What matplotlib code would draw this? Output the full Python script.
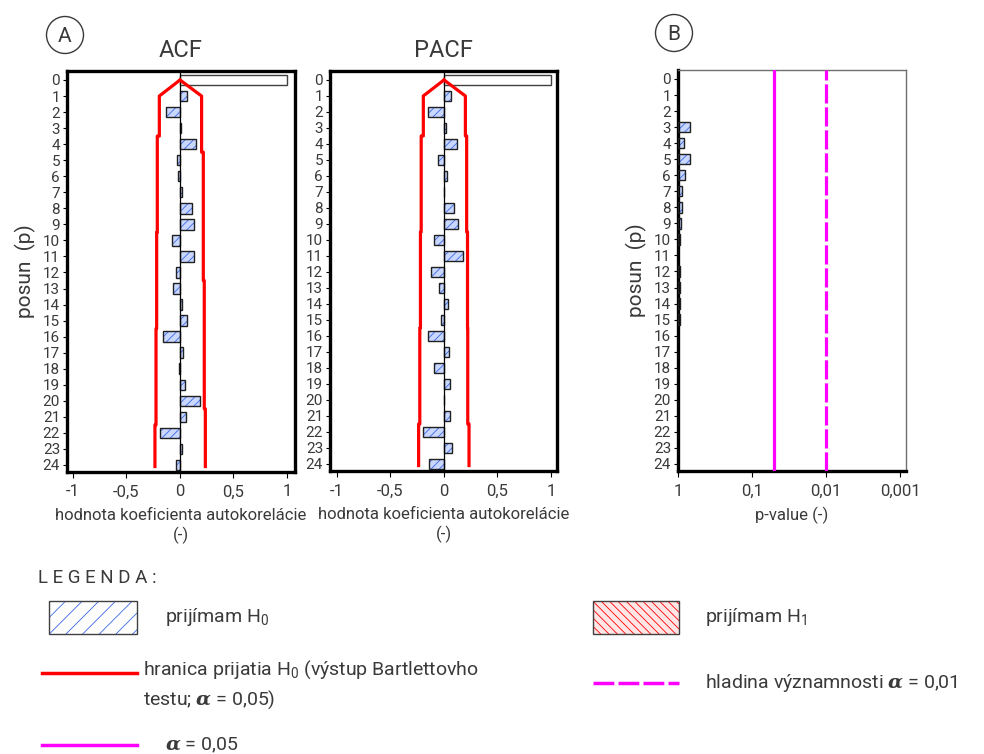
import numpy as np
import matplotlib
matplotlib.use("Agg")
import matplotlib.pyplot as plt
from matplotlib.patches import Rectangle, Circle

plt.rcParams['font.family'] = ['Roboto', 'DejaVu Sans']
plt.rcParams['mathtext.fontset'] = 'dejavuserif'
plt.rcParams['hatch.linewidth'] = 0.6

# data
lags = list(range(25))
acf = [1.0, 0.07, -0.13, 0.005, 0.15, -0.03, -0.015, 0.02, 0.115, 0.135, -0.07, 0.135,
       -0.035, -0.065, 0.02, 0.07, -0.155, 0.03, -0.005, 0.045, 0.19, 0.055, -0.19, 0.02, -0.035]
pacf = [1.0, 0.062, -0.153, 0.019, 0.121, -0.059, 0.028, 0.0, 0.097, 0.128, -0.09, 0.18,
        -0.125, -0.05, 0.034, -0.031, -0.153, 0.044, -0.09, 0.053, 0.0, 0.053, -0.193, 0.072, -0.143]

# Bartlett bounds for lags 1..24
acf_lower = [-0.193] * 3 + [-0.212] * 6 + [-0.218] * 6 + [-0.224] * 6 + [-0.234] * 3
acf_upper = [0.202] * 4 + [0.218] * 8 + [0.227] * 8 + [0.237] * 4
pacf_lower = [-0.193] * 3 + [-0.213] * 6 + [-0.220] * 6 + [-0.226] * 6 + [-0.237] * 3
pacf_upper = [0.200] * 3 + [0.212] * 6 + [0.220] * 6 + [0.222] * 6 + [0.234] * 3

nan = np.nan
p_values = [nan, nan, nan, 0.68, 0.83, 0.68, 0.80, 0.89, 0.89, 0.91, 0.94, nan,
            0.94, 0.95, 0.95, 0.95, nan, nan, nan, nan, nan, nan, nan, nan, nan]

alpha1 = 0.05
alpha2 = 0.01

BLUE_FACE = '#c9d7ff'
BLUE_HATCH = '#3a68e8'
RED = '#ff0000'
MAG = '#ff00ff'
TXT = '#3a3a3a'


def bound_path(b):
    xs, ys = [0], [0]
    for k, v in enumerate(b, start=1):
        y0 = k if k == 1 else k - 0.5
        y1 = k + 0.5 if k < len(b) else k + 0.1
        xs += [v, v]
        ys += [y0, y1]
    return xs, ys


def hatched_barh(ax, y, w, left=0):
    ax.barh(y, w, left=left, height=0.65, color=BLUE_FACE, edgecolor=BLUE_HATCH,
            hatch='////', linewidth=0, zorder=2)
    ax.barh(y, w, left=left, height=0.65, color='none', edgecolor='#202020',
            linewidth=1.0, zorder=3)


def style_lag_axis(ax):
    ax.set_ylim(24.44, -0.56)
    ax.set_yticks(lags)
    ax.set_yticklabels([str(l) for l in lags], fontsize=11, color=TXT)
    ax.tick_params(axis='y', length=3, width=0.8, pad=2)
    ax.tick_params(axis='x', length=4, width=0.8, pad=5, labelsize=12, labelcolor=TXT)


fig = plt.figure(figsize=(9.84, 7.54), dpi=100)


def px_axes(l, t, r, b):
    return fig.add_axes([l / 984, 1 - b / 754, (r - l) / 984, (b - t) / 754])


panels = [
    (px_axes(67, 71, 295, 472), acf, acf_lower, acf_upper, (-1.056, 1.075), 'ACF'),
    (px_axes(330, 71, 557, 471), pacf, pacf_lower, pacf_upper, (-1.065, 1.056), 'PACF'),
]

for ax, vals, lo, up, xl, title in panels:
    ax.barh(lags[0], vals[0], height=0.65, color='white', edgecolor='#404040',
            linewidth=1.0, zorder=3)
    hatched_barh(ax, lags[1:], vals[1:])
    ax.axvline(0, color='black', lw=0.9, zorder=4)
    x, y = bound_path(lo)
    ax.plot(x, y, color=RED, lw=2.3, zorder=5)
    x, y = bound_path(up)
    ax.plot(x, y, color=RED, lw=2.3, zorder=5)
    ax.set_xlim(*xl)
    ax.set_xticks([-1, -0.5, 0, 0.5, 1])
    ax.set_xticklabels(['-1', '-0,5', '0', '0,5', '1'])
    style_lag_axis(ax)
    for s in ax.spines.values():
        s.set_linewidth(2.4)
        s.set_color('black')
    ax.set_xlabel('hodnota koeficienta autokorelácie\n(-)', fontsize=12, color=TXT,
                  labelpad=6, linespacing=1.3)
    ax.text(0.5, 1.035, title, transform=ax.transAxes, fontsize=17, color=TXT,
            ha='center', va='baseline')

panels[0][0].set_ylabel('posun  (p)', fontsize=15, color=TXT, labelpad=5)

# p-value panel
axp = px_axes(678, 70, 906, 471)
axp.set_xscale('log')
p_arr = np.array(p_values, dtype=float)
hatched_barh(axp, lags, p_arr - 1.0, left=1.0)
axp.axvline(alpha1, color=MAG, lw=2.3, zorder=5)
axp.axvline(alpha2, color=MAG, lw=2.3, dashes=(6, 1.2), zorder=5)
axp.set_xlim(1.0, 10 ** -3.08)
axp.set_xticks([1, 0.1, 0.01, 0.001])
axp.set_xticklabels(['1', '0,1', '0,01', '0,001'])
axp.xaxis.set_minor_locator(matplotlib.ticker.NullLocator())
style_lag_axis(axp)
for side in ['left', 'bottom']:
    axp.spines[side].set_linewidth(2.4)
    axp.spines[side].set_color('black')
for side in ['top', 'right']:
    axp.spines[side].set_linewidth(1.0)
    axp.spines[side].set_color('#707070')
axp.set_xlabel('p-value (-)', fontsize=12, color=TXT, labelpad=6)
axp.set_ylabel('posun  (p)', fontsize=15, color=TXT, labelpad=5)

# overlay for labels and legend (pixel coordinates)
ov = fig.add_axes([0, 0, 1, 1])
ov.set_xlim(0, 984)
ov.set_ylim(754, 0)
ov.axis('off')

for cx, cy, letter in [(65, 35, 'A'), (674, 33, 'B')]:
    ov.add_patch(Circle((cx, cy), 18.5, fill=False, edgecolor=TXT, lw=1.0))
    ov.text(cx, cy + 1, letter, fontsize=15, color=TXT, ha='center', va='center')

ov.text(38, 578, 'L E G E N D A :', fontsize=13.5, color=TXT, va='center')

ov.add_patch(Rectangle((49, 601), 88, 33, facecolor='white', edgecolor=BLUE_HATCH,
                       hatch='//', lw=0))
ov.add_patch(Rectangle((49, 601), 88, 33, facecolor='none', edgecolor='#404040', lw=1.0))
ov.text(165, 617, r'prijímam H$_\mathregular{0}$', fontsize=14, color=TXT, va='center')

ov.plot([42, 137], [673, 673], color=RED, lw=2.5)
ov.text(143, 670, r'hranica prijatia H$_\mathregular{0}$ (výstup Bartlettovho', fontsize=14,
        color=TXT, va='center')
ov.text(143, 700, r'testu; $\boldsymbol{\alpha}$ = 0,05)', fontsize=14, color=TXT, va='center')

ov.plot([42, 137], [745, 745], color=MAG, lw=2.5)
ov.text(165, 745, r'$\boldsymbol{\alpha}$ = 0,05', fontsize=14, color=TXT, va='center')

ov.add_patch(Rectangle((593, 601), 86, 33, facecolor='#ffe6e6', edgecolor=RED,
                       hatch='\\\\\\\\', lw=0))
ov.add_patch(Rectangle((593, 601), 86, 33, facecolor='none', edgecolor='#404040', lw=1.0))
ov.text(705, 617, r'prijímam H$_\mathregular{1}$', fontsize=14, color=TXT, va='center')

ov.plot([593, 679], [683, 683], color=MAG, lw=2.5, dashes=(6, 1.2))
ov.text(705, 683, r'hladina významnosti $\boldsymbol{\alpha}$ = 0,01', fontsize=14, color=TXT,
        va='center')

fig.savefig('out.png', dpi=100)
